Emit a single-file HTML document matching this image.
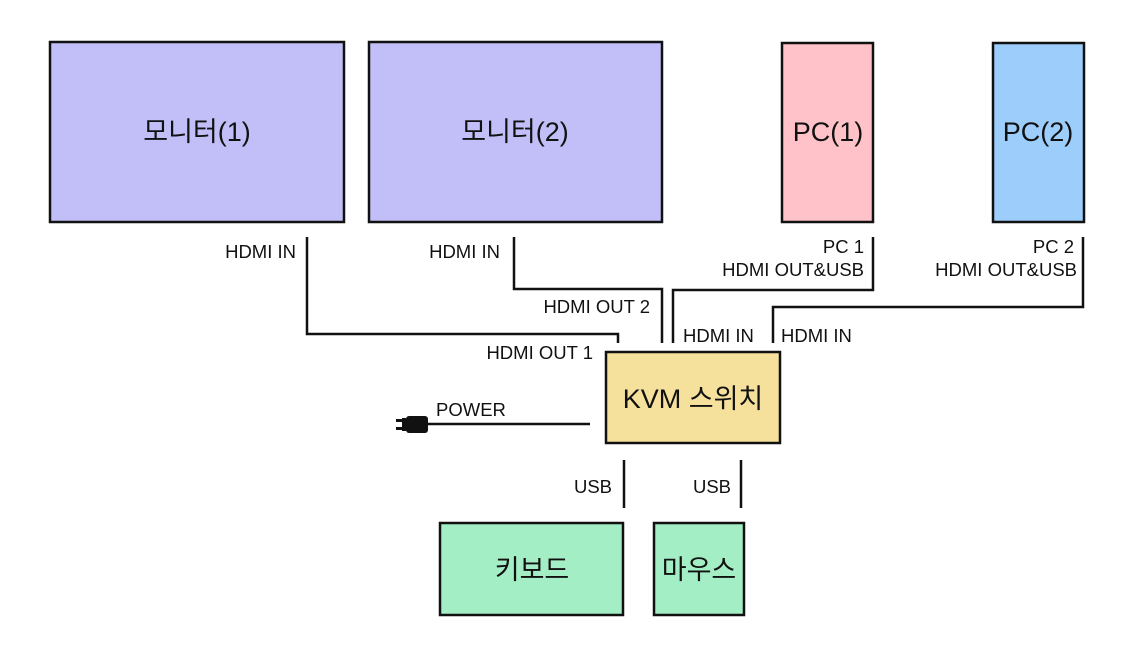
<!DOCTYPE html>
<html><head><meta charset="utf-8"><style>
html,body{margin:0;padding:0;background:#fff;}
svg{display:block;}
text{font-family:"Liberation Sans","Noto Sans CJK KR",sans-serif;fill:#111;}
.s{font-size:18.5px;}
.b{font-size:27px;}
</style></head><body>
<svg width="1135" height="659" viewBox="0 0 1135 659" xmlns="http://www.w3.org/2000/svg">
<g stroke="#111" stroke-width="2.5">
<rect x="50" y="42" width="294" height="180" fill="#c2bff8"/>
<rect x="369" y="42" width="293" height="180" fill="#c2bff8"/>
<rect x="782" y="43" width="91" height="179" fill="#ffc2c8"/>
<rect x="993" y="43" width="91" height="179" fill="#9dcdfb"/>
<rect x="606" y="352" width="174" height="91" fill="#f5e09c"/>
<rect x="440" y="523" width="183" height="92" fill="#a3eec5"/>
<rect x="654" y="523" width="90" height="92" fill="#a3eec5"/>
</g>
<g stroke="#111" stroke-width="2.5" fill="none">
<polyline points="307,237 307,334 618,334 618,343"/>
<polyline points="514,237 514,289 662,289 662,343"/>
<polyline points="873,237 873,290 673,290 673,343"/>
<polyline points="1083,237 1083,307 773,307 773,343"/>
<line x1="420" y1="424" x2="590" y2="424"/>
<line x1="624" y1="460" x2="624" y2="508"/>
<line x1="741" y1="460" x2="741" y2="508"/>
</g>
<rect x="406" y="416" width="22" height="17" rx="3" fill="#111"/>
<rect x="396" y="419" width="10" height="3" fill="#111"/>
<rect x="396" y="427" width="10" height="3" fill="#111"/>
<rect x="402" y="418" width="4" height="13" fill="#111"/>
<g class="b" text-anchor="middle">
<text x="197" y="141">모니터(1)</text>
<text x="515" y="141">모니터(2)</text>
<text x="828" y="141">PC(1)</text>
<text x="1038" y="141">PC(2)</text>
<text x="693" y="408">KVM 스위치</text>
<text x="532" y="579">키보드</text>
<text x="699" y="579">마우스</text>
</g>
<g class="s">
<text x="296" y="258" text-anchor="end">HDMI IN</text>
<text x="500" y="258" text-anchor="end">HDMI IN</text>
<text x="650" y="313" text-anchor="end">HDMI OUT 2</text>
<text x="593" y="359" text-anchor="end">HDMI OUT 1</text>
<text x="864" y="253" text-anchor="end">PC 1</text>
<text x="864" y="276" text-anchor="end">HDMI OUT&amp;USB</text>
<text x="1074" y="253" text-anchor="end">PC 2</text>
<text x="1077" y="276" text-anchor="end">HDMI OUT&amp;USB</text>
<text x="683" y="342">HDMI IN</text>
<text x="781" y="342">HDMI IN</text>
<text x="436" y="416">POWER</text>
<text x="612" y="493" text-anchor="end">USB</text>
<text x="731" y="493" text-anchor="end">USB</text>
</g>
</svg>
</body></html>
